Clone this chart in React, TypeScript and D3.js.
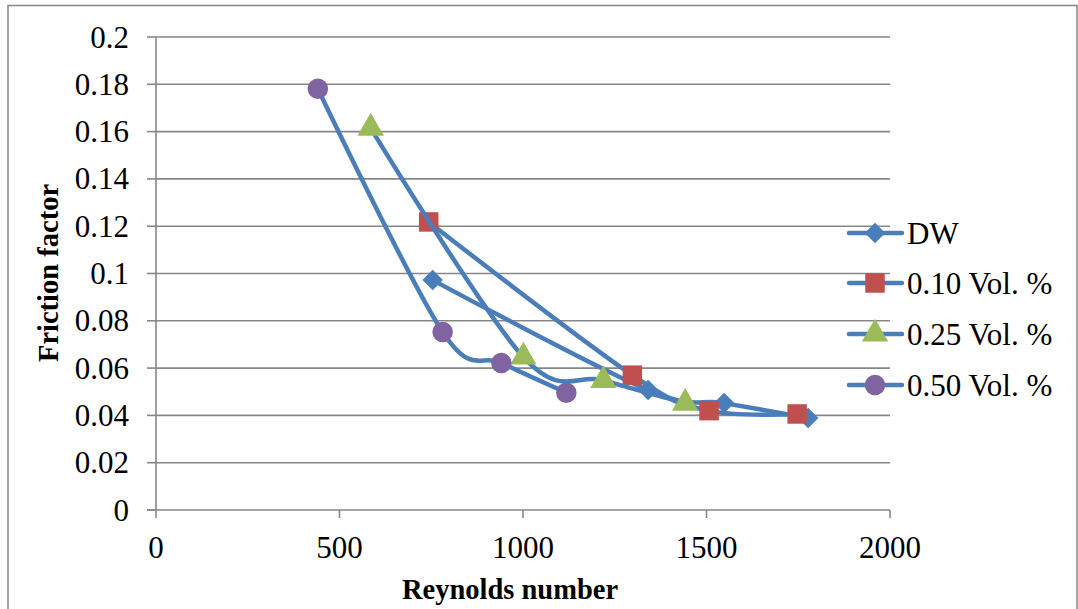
import React from "react";
import * as d3 from "d3";

const seriesNames = ["DW", "0.10 Vol. %", "0.25 Vol. %", "0.50 Vol. %"];
const dwRe = [754, 1341, 1548, 1777];
const dwF = [0.0972, 0.0507, 0.0452, 0.0389];
const v10Re = [743, 1298, 1507, 1747];
const v10F = [0.1218, 0.057, 0.042, 0.0406];
const v25Re = [585, 1001, 1219, 1442];
const v25F = [0.1615, 0.0647, 0.0548, 0.0452];
const v50Re = [441, 781, 941, 1118];
const v50F = [0.1781, 0.0753, 0.0622, 0.0496];
const xTicks = [0, 500, 1000, 1500, 2000];
const yTicks = [0, 0.02, 0.04, 0.06, 0.08, 0.1, 0.12, 0.14, 0.16, 0.18, 0.2];
const yTickLabels = ["0", "0.02", "0.04", "0.06", "0.08", "0.1", "0.12", "0.14", "0.16", "0.18", "0.2"];

const LINE = "#4A7EBB";
const GRID = "#878787";
const FONT = "'Liberation Serif', 'Times New Roman', serif";
const markerColors = ["#4A7EBB", "#C0504D", "#9BBB59", "#8064A2"];
const markerShapes = [d3.symbolSquare, d3.symbolSquare, d3.symbolTriangle, d3.symbolCircle];
const markerSizes = [210, 380, 300, 330];
const markerRot = [45, 0, 0, 0];

export default function App() {
  const x = d3.scaleLinear().domain([0, 2000]).range([156, 890]);
  const y = d3.scaleLinear().domain([0, 0.2]).range([510, 37]);
  const data = [
    dwRe.map((r, i) => [r, dwF[i]]),
    v10Re.map((r, i) => [r, v10F[i]]),
    v25Re.map((r, i) => [r, v25F[i]]),
    v50Re.map((r, i) => [r, v50F[i]]),
  ];
  const line = d3
    .line<number[]>()
    .x((d) => x(d[0]))
    .y((d) => y(d[1]))
    .curve(d3.curveCardinal.tension(0));
  const sym = (i: number) => d3.symbol().type(markerShapes[i]).size(markerSizes[i])() as string;
  const legendY = [233, 283, 334, 385];

  return (
    <svg width={1078} height={609} style={{ position: "absolute", left: 0, top: 0, background: "#fff" }}>
      <rect x={8} y={5.5} width={1069} height={610} fill="#fff" stroke={GRID} strokeWidth={1.5} />
      {yTicks.slice(1).map((t) => (
        <line key={"g" + t} x1={x(0)} x2={890} y1={y(t)} y2={y(t)} stroke={GRID} strokeWidth={1.6} />
      ))}
      <line x1={x(0)} x2={x(0)} y1={y(0.2)} y2={y(0)} stroke={GRID} strokeWidth={1.6} />
      <line x1={147} x2={890} y1={y(0)} y2={y(0)} stroke={GRID} strokeWidth={1.6} />
      {yTicks.map((t) => (
        <line key={"yt" + t} x1={147} x2={x(0)} y1={y(t)} y2={y(t)} stroke={GRID} strokeWidth={1.6} />
      ))}
      {xTicks.map((t) => (
        <line key={"xt" + t} x1={x(t)} x2={x(t)} y1={510} y2={518} stroke={GRID} strokeWidth={1.6} />
      ))}
      {yTicks.map((t, i) => (
        <text key={"yl" + t} x={129} y={y(t) + 10.5} textAnchor="end" fontFamily={FONT} fontSize={31} fill="#000">
          {yTickLabels[i]}
        </text>
      ))}
      {xTicks.map((t) => (
        <text key={"xl" + t} x={x(t)} y={558} textAnchor="middle" fontFamily={FONT} fontSize={31} fill="#000">
          {t}
        </text>
      ))}
      <text x={510} y={599} textAnchor="middle" fontFamily={FONT} fontSize={28.5} fontWeight="bold" fill="#000">
        Reynolds number
      </text>
      <text
        transform="translate(58,273) rotate(-90)"
        textAnchor="middle"
        fontFamily={FONT}
        fontSize={28.5}
        fontWeight="bold"
        fill="#000"
      >
        Friction factor
      </text>
      {data.map((s, i) => (
        <g key={"s" + i}>
          <path d={line(s) as string} fill="none" stroke={LINE} strokeWidth={4.5} strokeLinejoin="round" strokeLinecap="round" />
          {s.map((d, j) => (
            <path
              key={j}
              d={sym(i)}
              transform={`translate(${x(d[0])},${y(d[1])}) rotate(${markerRot[i]})`}
              fill={markerColors[i]}
            />
          ))}
        </g>
      ))}
      {seriesNames.map((n, i) => (
        <g key={"l" + i}>
          <line x1={849} x2={902} y1={legendY[i]} y2={legendY[i]} stroke={LINE} strokeWidth={4.5} strokeLinecap="round" />
          <path d={sym(i)} transform={`translate(875,${legendY[i]}) rotate(${markerRot[i]})`} fill={markerColors[i]} />
          <text x={907} y={legendY[i] + 10.5} fontFamily={FONT} fontSize={31} fill="#000">
            {n}
          </text>
        </g>
      ))}
    </svg>
  );
}
